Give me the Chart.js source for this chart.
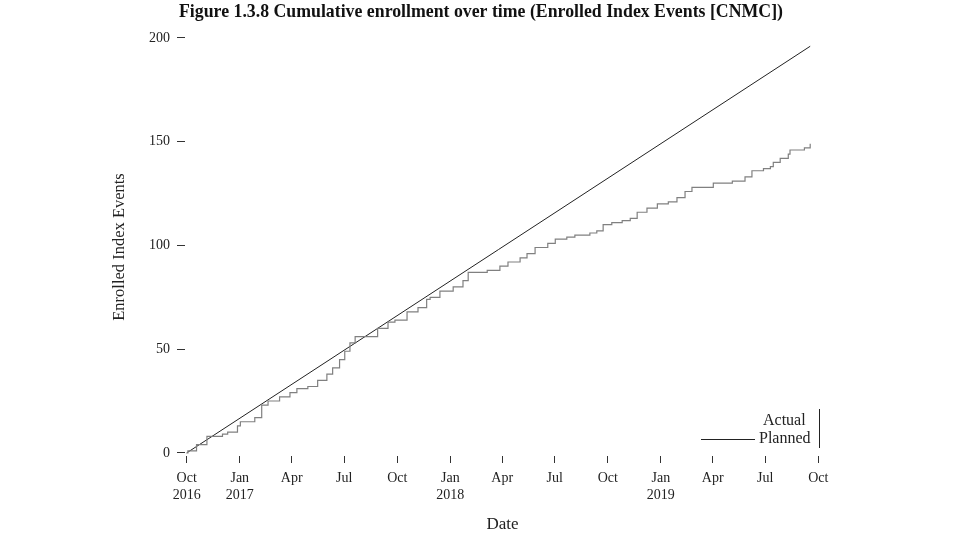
<!DOCTYPE html>
<html>
<head>
<meta charset="utf-8">
<script src="https://cdn.jsdelivr.net/npm/chart.js@4.4.1/dist/chart.umd.min.js"></script>
<style>
  html, body { margin: 0; padding: 0; background: #ffffff; }
  #wrap { width: 960px; height: 540px; }
</style>
</head>
<body>
<div id="wrap"><canvas id="c" width="960" height="540"></canvas></div>
<script>
// ---- data ----
const actualDates = [
  '2016-10-01','2016-10-03','2016-10-18','2016-11-05','2016-12-02','2016-12-11','2016-12-28',
  '2017-01-02','2017-01-27','2017-02-08','2017-02-19','2017-03-11','2017-03-29','2017-04-10',
  '2017-04-29','2017-05-16','2017-06-01','2017-06-11','2017-06-23','2017-07-02','2017-07-11',
  '2017-07-20','2017-08-28','2017-09-15','2017-09-27','2017-10-18','2017-11-06','2017-11-21',
  '2017-11-27','2017-12-14','2018-01-06','2018-01-23','2018-02-01','2018-03-06','2018-03-28',
  '2018-04-11','2018-05-02','2018-05-14','2018-05-28','2018-06-19','2018-07-02','2018-07-22',
  '2018-08-05','2018-08-31','2018-09-12','2018-09-23','2018-10-08','2018-10-26','2018-11-09',
  '2018-11-21','2018-12-08','2018-12-26','2019-01-14','2019-01-29','2019-02-12','2019-02-24',
  '2019-04-02','2019-05-05','2019-05-27','2019-06-08','2019-06-28','2019-07-10','2019-07-15',
  '2019-07-27','2019-08-10','2019-08-13','2019-09-07','2019-09-17'
];
const actualValues = [
  0,1,4,8,9,10,13,
  15,17,23,25,27,29,31,
  32,35,38,41,45,49,53,
  56,60,63,64,68,70,74,
  75,78,80,83,87,88,90,
  92,94,96,99,101,103,104,
  105,106,107,110,111,112,113,
  116,118,120,121,123,126,128,
  130,131,133,136,137,138,140,
  142,144,146,147,149
];
const plannedDates = ['2016-10-01','2019-09-17'];
const plannedValues = [0, 196];

const tickDates = ['2016-10-01','2017-01-01','2017-04-01','2017-07-01','2017-10-01','2018-01-01',
  '2018-04-01','2018-07-01','2018-10-01','2019-01-01','2019-04-01','2019-07-01','2019-10-01'];
const tickLabels = [['Oct','2016'],['Jan','2017'],['Apr'],['Jul'],['Oct'],['Jan','2018'],
  ['Apr'],['Jul'],['Oct'],['Jan','2019'],['Apr'],['Jul'],['Oct']];
const yTicks = [0, 50, 100, 150, 200];

const titleText = 'Figure 1.3.8 Cumulative enrollment over time (Enrolled Index Events [CNMC])';
const seriesNames = ['Actual', 'Planned'];

// ---- helpers ----
const ORIGIN = Date.UTC(2016, 9, 1);
function dayOf(s) {
  const p = s.split('-').map(Number);
  return (Date.UTC(p[0], p[1] - 1, p[2]) - ORIGIN) / 86400000;
}
const tickDays = tickDates.map(dayOf);
const actualPts = actualDates.map((d, i) => ({ x: dayOf(d), y: actualValues[i] }));
const plannedPts = plannedDates.map((d, i) => ({ x: dayOf(d), y: plannedValues[i] }));

const SERIF = "'Liberation Serif', 'DejaVu Serif', serif";

const legendPlugin = {
  id: 'rlegend',
  afterDraw(chart) {
    const ctx = chart.ctx;
    ctx.save();
    ctx.font = '16px ' + SERIF;
    ctx.fillStyle = '#222';
    ctx.textBaseline = 'middle';
    ctx.textAlign = 'left';
    ctx.fillText(seriesNames[0], 763, 421);
    ctx.fillText(seriesNames[1], 759, 439);
    ctx.strokeStyle = '#222';
    ctx.lineWidth = 1;
    ctx.beginPath();
    ctx.moveTo(701, 439.5);
    ctx.lineTo(755, 439.5);
    ctx.stroke();
    ctx.beginPath();
    ctx.moveTo(819.5, 409);
    ctx.lineTo(819.5, 448);
    ctx.stroke();
    ctx.restore();
  }
};

new Chart(document.getElementById('c'), {
  type: 'line',
  data: {
    datasets: [
      {
        label: seriesNames[0],
        data: actualPts,
        borderColor: '#808080',
        borderWidth: 1.2,
        stepped: 'before',
        pointRadius: 0,
        fill: false
      },
      {
        label: seriesNames[1],
        data: plannedPts,
        borderColor: '#222222',
        borderWidth: 1,
        pointRadius: 0,
        fill: false
      }
    ]
  },
  options: {
    responsive: false,
    animation: false,
    devicePixelRatio: 1,
    layout: { padding: { left: 68, right: 66, top: 0, bottom: 0 } },
    plugins: {
      legend: { display: false },
      tooltip: { enabled: false },
      title: {
        display: true,
        text: titleText,
        color: '#111',
        font: { family: SERIF, size: 17.8, weight: 'bold', lineHeight: 1.2 },
        padding: { top: 2, bottom: 14.6 }
      }
    },
    scales: {
      x: {
        type: 'linear',
        min: -3,
        max: 1098,
        afterFit(scale) { scale.height = 84; },
        afterBuildTicks(scale) { scale.ticks = tickDays.map(v => ({ value: v })); },
        grid: { display: true, drawOnChartArea: false, drawTicks: true, tickLength: 7, color: '#333', tickColor: '#333', lineWidth: 1 },
        border: { display: false },
        ticks: {
          autoSkip: false,
          maxRotation: 0,
          padding: 7,
          color: '#222',
          font: { family: SERIF, size: 14, lineHeight: 1.2 },
          callback(value) {
            const i = tickDays.indexOf(value);
            return i >= 0 ? tickLabels[i] : '';
          }
        },
        title: {
          display: true,
          text: 'Date',
          color: '#222',
          font: { family: SERIF, size: 17, lineHeight: 1.2 },
          padding: { top: 0, bottom: 5 }
        }
      },
      y: {
        type: 'linear',
        position: 'left',
        min: -1.5,
        max: 200,
        afterFit(scale) { scale.width = 117; },
        afterBuildTicks(scale) { scale.ticks = yTicks.map(v => ({ value: v })); },
        grid: { display: true, drawOnChartArea: false, drawTicks: true, tickLength: 8, color: '#333', tickColor: '#333', lineWidth: 1 },
        border: { display: false },
        ticks: {
          padding: 7,
          color: '#222',
          font: { family: SERIF, size: 14, lineHeight: 1.2 }
        },
        title: {
          display: true,
          text: 'Enrolled Index Events',
          color: '#222',
          font: { family: SERIF, size: 16.5, lineHeight: 1.2 },
          padding: { top: 42, bottom: 0 }
        }
      },
      yRight: {
        type: 'linear',
        position: 'right',
        min: -1.5,
        max: 200,
        afterFit(scale) { scale.width = 74; },
        grid: { display: false, drawOnChartArea: false, drawTicks: false },
        border: { display: false },
        ticks: { display: false },
        title: { display: false }
      }
    }
  },
  plugins: [legendPlugin]
});
</script>
</body>
</html>
